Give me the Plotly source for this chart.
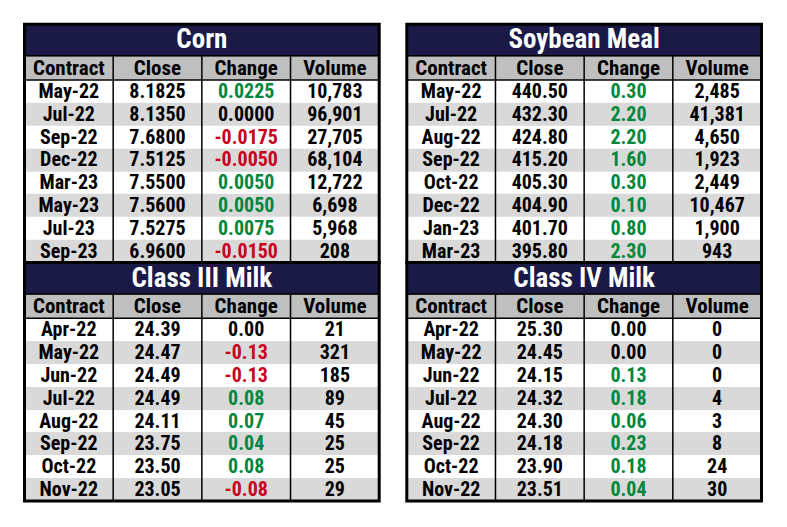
import plotly.graph_objects as go

# ---------------- data ----------------
columns = ["Contract", "Close", "Change", "Volume"]

corn_title = "Corn"
corn_contract = ["May-22", "Jul-22", "Sep-22", "Dec-22", "Mar-23", "May-23", "Jul-23", "Sep-23"]
corn_close = [8.1825, 8.1350, 7.6800, 7.5125, 7.5500, 7.5600, 7.5275, 6.9600]
corn_change = [0.0225, 0.0000, -0.0175, -0.0050, 0.0050, 0.0050, 0.0075, -0.0150]
corn_volume = [10783, 96901, 27705, 68104, 12722, 6698, 5968, 208]

soy_title = "Soybean Meal"
soy_contract = ["May-22", "Jul-22", "Aug-22", "Sep-22", "Oct-22", "Dec-22", "Jan-23", "Mar-23"]
soy_close = [440.50, 432.30, 424.80, 415.20, 405.30, 404.90, 401.70, 395.80]
soy_change = [0.30, 2.20, 2.20, 1.60, 0.30, 0.10, 0.80, 2.30]
soy_volume = [2485, 41381, 4650, 1923, 2449, 10467, 1900, 943]

c3_title = "Class III Milk"
c3_contract = ["Apr-22", "May-22", "Jun-22", "Jul-22", "Aug-22", "Sep-22", "Oct-22", "Nov-22"]
c3_close = [24.39, 24.47, 24.49, 24.49, 24.11, 23.75, 23.50, 23.05]
c3_change = [0.00, -0.13, -0.13, 0.08, 0.07, 0.04, 0.08, -0.08]
c3_volume = [21, 321, 185, 89, 45, 25, 25, 29]

c4_title = "Class IV Milk"
c4_contract = ["Apr-22", "May-22", "Jun-22", "Jul-22", "Aug-22", "Sep-22", "Oct-22", "Nov-22"]
c4_close = [25.30, 24.45, 24.15, 24.32, 24.30, 24.18, 23.90, 23.51]
c4_change = [0.00, 0.00, 0.13, 0.18, 0.06, 0.23, 0.18, 0.04]
c4_volume = [0, 0, 0, 4, 3, 8, 24, 30]

# ---------------- style ----------------
W, H = 787, 527
OFF = 8  # page body margin
FONT = "Roboto Condensed, Roboto, Liberation Sans, sans-serif"
NAVY = "#1b1a47"
HEAD_GRAY = "#bfbfbf"
ROW_GRAY = "#d9d9d9"
GREEN = "#00873c"
RED = "#c8001e"

TITLE_H = 31.5
HEAD_H = 24.3
ROW_H = 22.8
TEXT_DROP = 1.5  # nudge text to optical centre of its cell

panels = [
    dict(title=corn_title, contract=corn_contract, close=corn_close, change=corn_change,
         volume=corn_volume, dec=4, box=(24.5, 24.2, 379.2, 262.5)),
    dict(title=soy_title, contract=soy_contract, close=soy_close, change=soy_change,
         volume=soy_volume, dec=2, box=(406.8, 24.2, 761.5, 262.5)),
    dict(title=c3_title, contract=c3_contract, close=c3_close, change=c3_change,
         volume=c3_volume, dec=2, box=(24.5, 262.5, 379.2, 501.0)),
    dict(title=c4_title, contract=c4_contract, close=c4_close, change=c4_change,
         volume=c4_volume, dec=2, box=(406.8, 262.5, 761.5, 501.0)),
]

fig = go.Figure()
shapes = []
layout_axes = {}

colorscale = [[0, "white"], [1 / 3, ROW_GRAY], [2 / 3, HEAD_GRAY], [1, NAVY]]

for k, p in enumerate(panels):
    sfx = "" if k == 0 else str(k + 1)
    xa, ya = "x" + sfx, "y" + sfx
    n = len(p["contract"])
    ph = n * ROW_H + HEAD_H + TITLE_H
    data_top = n * ROW_H
    head_top = data_top + HEAD_H

    # fills: alternating data rows + header row
    y_edges = [i * ROW_H for i in range(n + 1)] + [head_top]
    z = []
    for i in range(n):
        row_from_top = n - 1 - i
        z.append([row_from_top % 2] * 4)
    z.append([2] * 4)
    fig.add_trace(go.Heatmap(z=z, x=[0, 1, 2, 3, 4], y=y_edges, zmin=0, zmax=3,
                             colorscale=colorscale, showscale=False, hoverinfo="skip",
                             xaxis=xa, yaxis=ya))
    # title bar
    fig.add_trace(go.Heatmap(z=[[3]], x=[0, 4], y=[head_top, ph], zmin=0, zmax=3,
                             colorscale=colorscale, showscale=False, hoverinfo="skip",
                             xaxis=xa, yaxis=ya))

    fig.add_trace(go.Scatter(x=[2], y=[(head_top + ph) / 2 - TEXT_DROP], mode="text",
                             text=[p["title"]],
                             textfont=dict(family=FONT, size=27, color="white", weight="bold"),
                             hoverinfo="skip", showlegend=False, xaxis=xa, yaxis=ya))
    fig.add_trace(go.Scatter(x=[0.5, 1.5, 2.5, 3.5],
                             y=[(data_top + head_top) / 2 - TEXT_DROP] * 4,
                             mode="text", text=columns,
                             textfont=dict(family=FONT, size=21, color="black", weight="bold"),
                             hoverinfo="skip", showlegend=False, xaxis=xa, yaxis=ya))
    xs, ys, txt, cols = [], [], [], []
    for i in range(n):
        yc = data_top - (i + 0.5) * ROW_H - TEXT_DROP
        ch = p["change"][i]
        ch_col = GREEN if ch > 0 else (RED if ch < 0 else "black")
        vals = [p["contract"][i], f"{p['close'][i]:.{p['dec']}f}",
                f"{ch:.{p['dec']}f}", f"{p['volume'][i]:,}"]
        cs = ["black", "black", ch_col, "black"]
        for j in range(4):
            xs.append(j + 0.5)
            ys.append(yc)
            txt.append(vals[j])
            cols.append(cs[j])
    fig.add_trace(go.Scatter(x=xs, y=ys, mode="text", text=txt,
                             textfont=dict(family=FONT, size=20, color=cols, weight="bold"),
                             hoverinfo="skip", showlegend=False, xaxis=xa, yaxis=ya))

    l, t, r, b = [v - OFF for v in p["box"]]
    layout_axes["xaxis" + sfx] = dict(domain=[l / W, r / W], range=[0, 4], visible=False,
                                      fixedrange=True, anchor=ya)
    layout_axes["yaxis" + sfx] = dict(domain=[1 - b / H, 1 - t / H], range=[0, ph], visible=False,
                                      fixedrange=True, anchor=xa)

    for j in (1, 2, 3):
        shapes.append(dict(type="line", xref=xa, yref=ya, x0=j, x1=j, y0=0, y1=head_top,
                           line=dict(color="black", width=1.5)))
    for yy in (data_top, head_top):
        shapes.append(dict(type="line", xref=xa + " domain", yref=ya, x0=0, x1=1, y0=yy, y1=yy,
                           line=dict(color="black", width=1.5)))
    shapes.append(dict(type="rect", xref=xa + " domain", yref=ya + " domain", x0=0, x1=1, y0=0, y1=1,
                       line=dict(color="black", width=3)))

fig.update_layout(width=W, height=H, margin=dict(l=0, r=0, t=0, b=0),
                  paper_bgcolor="white", plot_bgcolor="white", showlegend=False,
                  shapes=shapes, **layout_axes)

fig.write_html("out.html")
